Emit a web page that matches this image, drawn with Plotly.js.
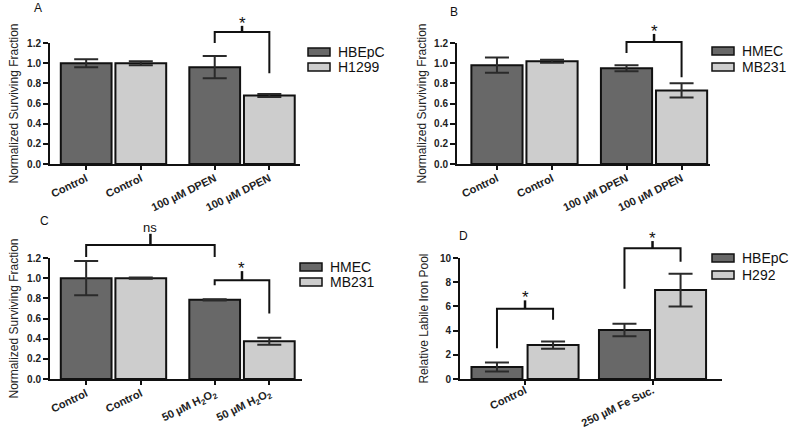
<!DOCTYPE html>
<html><head><meta charset="utf-8">
<script src="https://cdn.plot.ly/plotly-3.0.1.min.js"></script>
<style>html,body{margin:0;padding:0;background:#fff}#chart{width:800px;height:431px}</style>
</head><body><div id="chart"></div>
<script>
// ---------------- DATA ----------------
// Panel A
const groupsA = ['Control', '100 µM DPEN'];
const seriesA = ['HBEpC', 'H1299'];
const hbepcA = [1.00, 0.96];
const hbepcA_err = [0.04, 0.11];
const h1299A = [1.00, 0.68];
const h1299A_err = [0.02, 0.015];
const ticksA = ['Control', 'Control', '100 µM DPEN', '100 µM DPEN'];

// Panel B
const groupsB = ['Control', '100 µM DPEN'];
const seriesB = ['HMEC', 'MB231'];
const hmecB = [0.98, 0.95];
const hmecB_err = [0.075, 0.03];
const mb231B = [1.02, 0.73];
const mb231B_err = [0.015, 0.07];
const ticksB = ['Control', 'Control', '100 µM DPEN', '100 µM DPEN'];

// Panel C
const groupsC = ['Control', '50 µM H2O2'];
const seriesC = ['HMEC', 'MB231'];
const hmecC = [1.00, 0.785];
const hmecC_err = [0.17, 0.006];
const mb231C = [1.00, 0.375];
const mb231C_err = [0.006, 0.035];
const ticksC = ['Control', 'Control', '50 µM H<sub>2</sub>O<sub>2</sub>', '50 µM H<sub>2</sub>O<sub>2</sub>'];

// Panel D
const groupsD = ['Control', '250 µM Fe Suc.'];
const seriesD = ['HBEpC', 'H292'];
const hbepcD = [1.0, 4.05];
const hbepcD_err = [0.37, 0.52];
const h292D = [2.8, 7.35];
const h292D_err = [0.3, 1.35];
const ticksD = ['Control', '250 µM Fe Suc.'];

// significance brackets: bars are [group, series]; heights in data units
const sigA = [{l: [1, 0], r: [1, 1], top: 1.31, lEnd: 1.20, rEnd: 0.90, stem: 1.37, text: '*'}];
const sigB = [{l: [1, 0], r: [1, 1], top: 1.21, lEnd: 1.10, rEnd: 0.86, stem: 1.29, text: '*'}];
const sigC = [
  {l: [0, 0], r: [1, 0], top: 1.33, lEnd: 1.21, rEnd: 1.21, stem: 1.44, text: 'ns'},
  {l: [1, 0], r: [1, 1], top: 0.98, lEnd: 0.93, rEnd: 0.65, stem: 1.07, text: '*'}
];
const sigD = [
  {l: [0, 0], r: [0, 1], top: 5.8, lEnd: 2.55, rEnd: 4.9, stem: 6.5, text: '*'},
  {l: [1, 0], r: [1, 1], top: 10.8, lEnd: 7.45, rEnd: 9.7, stem: 11.4, text: '*'}
];

// ---------------- STYLE / LAYOUT ----------------
const W = 800, H = 431;
const COLORS = ['#686868', '#cdcdcd'];
const FONT = 'Liberation Sans, Arial, sans-serif';

const panels = [
  {id: 1, letter: 'A', groups: groupsA, series: seriesA, vals: [hbepcA, h1299A], errs: [hbepcA_err, h1299A_err],
   ticks: ticksA, tickPerBar: true, sig: sigA, ymax: 1.2, dtick: 0.2, fmt: '.1f', ytitle: 'Normalized Surviving Fraction',
   px: [50, 300], py: [43, 164], xr: [-0.494, 1.451], offs: [-0.41, 0.015], bw: 0.395, standoff: 6, xfs: 11, tls: -2,
   letterPos: [38, 8], legPos: [308, 52], legStep: 15},
  {id: 2, letter: 'B', groups: groupsB, series: seriesB, vals: [hmecB, mb231B], errs: [hmecB_err, mb231B_err],
   ticks: ticksB, tickPerBar: true, sig: sigB, ymax: 1.2, dtick: 0.2, fmt: '.1f', ytitle: 'Normalized Surviving Fraction',
   px: [457, 710], py: [43, 164], xr: [-0.521, 1.432], offs: [-0.41, 0.015], bw: 0.395, standoff: 5, xfs: 11, tls: -2,
   letterPos: [454, 12], legPos: [712, 51], legStep: 16},
  {id: 3, letter: 'C', groups: groupsC, series: seriesC, vals: [hmecC, mb231C], errs: [hmecC_err, mb231C_err],
   ticks: ticksC, tickPerBar: true, sig: sigC, ymax: 1.2, dtick: 0.2, fmt: '.1f', ytitle: 'Normalized Surviving Fraction',
   px: [50, 302], py: [258, 379], xr: [-0.494, 1.467], offs: [-0.41, 0.015], bw: 0.395, standoff: 6, xfs: 11, tls: -2,
   letterPos: [44, 221], legPos: [300, 267], legStep: 15},
  {id: 4, letter: 'D', groups: groupsD, series: seriesD, vals: [hbepcD, h292D], errs: [hbepcD_err, h292D_err],
   ticks: ticksD, tickPerBar: false, sig: sigD, ymax: 10, dtick: 2, fmt: 'd', ytitle: 'Relative Labile Iron Pool',
   px: [460, 722], py: [258, 379], xr: [-0.51, 1.545], offs: [-0.42, 0.02], bw: 0.4, standoff: 9, xfs: 11, tls: -5,
   letterPos: [464, 236], legPos: [712, 258], legStep: 17}
];

const traces = [];
const layout = {
  width: W, height: H, margin: {l: 0, r: 0, t: 0, b: 0},
  paper_bgcolor: '#fff', plot_bgcolor: '#fff',
  barmode: 'overlay', showlegend: false,
  font: {family: FONT, color: '#000'},
  shapes: [], annotations: []
};

panels.forEach(p => {
  const sfx = p.id === 1 ? '' : String(p.id);
  const xa = 'x' + sfx, ya = 'y' + sfx;
  const xd = [p.px[0] / W, p.px[1] / W];
  const yd = [1 - p.py[1] / H, 1 - p.py[0] / H];
  const toPaperY = v => yd[0] + v / p.ymax * (yd[1] - yd[0]);
  const barCenter = (g, s) => g + p.offs[s] + p.bw / 2;

  p.series.forEach((name, s) => {
    traces.push({
      type: 'bar', name: name, xaxis: xa, yaxis: ya,
      x: p.groups.map((_, g) => g), y: p.vals[s],
      hovertext: p.groups,
      width: p.bw, offset: p.offs[s],
      marker: {color: COLORS[s], line: {color: '#111', width: 2}},
      error_y: {type: 'data', array: p.errs[s], visible: true, color: '#2a2a2a', thickness: 2, width: 12}
    });
  });

  let tickvals;
  if (p.tickPerBar) {
    tickvals = [];
    p.groups.forEach((_, g) => p.series.forEach((__, s) => tickvals.push(barCenter(g, s))));
  } else {
    tickvals = p.groups.map((_, g) => (g + p.offs[0] + g + p.offs[1] + p.bw) / 2);
  }

  layout['xaxis' + sfx] = {
    domain: xd, anchor: ya, range: p.xr, fixedrange: true,
    showline: true, linecolor: '#111', linewidth: 2, showgrid: false, zeroline: false,
    ticks: 'outside', ticklen: 4, tickwidth: 2, tickcolor: '#111',
    tickmode: 'array', tickvals: tickvals, ticktext: p.ticks, tickangle: -26,
    ticklabelstandoff: p.tls,
    tickfont: {family: FONT, size: p.xfs, weight: 'bold', color: '#222'}
  };
  layout['yaxis' + sfx] = {
    domain: yd, anchor: xa, range: [0, p.ymax], fixedrange: true,
    showline: true, linecolor: '#111', linewidth: 2, showgrid: false, zeroline: false,
    ticks: 'outside', ticklen: 5, tickwidth: 2, tickcolor: '#111',
    dtick: p.dtick, tick0: 0, tickformat: p.fmt,
    tickfont: {family: FONT, size: 10, weight: 'bold', color: '#222'},
    title: {text: p.ytitle, font: {family: FONT, size: 12, color: '#222'}, standoff: p.standoff}
  };

  // significance brackets
  p.sig.forEach(b => {
    const xl = barCenter(b.l[0], b.l[1]);
    const xr = barCenter(b.r[0], b.r[1]);
    const xm = (xl + xr) / 2;
    const yt = toPaperY(b.top);
    layout.shapes.push({
      type: 'path', xref: xa, yref: 'paper',
      path: `M${xl},${toPaperY(b.lEnd)} L${xl},${yt} L${xr},${yt} L${xr},${toPaperY(b.rEnd)}`,
      line: {color: '#111', width: 2}
    });
    layout.shapes.push({
      type: 'line', xref: xa, yref: 'paper', x0: xm, x1: xm, y0: yt, y1: toPaperY(b.stem),
      line: {color: '#111', width: 2.5}
    });
    const isStar = b.text === '*';
    layout.annotations.push({
      xref: xa, yref: 'paper', x: xm, y: toPaperY(b.stem), yanchor: 'bottom', xanchor: 'center',
      yshift: isStar ? -9 : -3, showarrow: false, text: b.text,
      font: {family: FONT, size: isStar ? 17 : 13, color: '#111'}
    });
  });

  // panel letter
  layout.annotations.push({
    xref: 'paper', yref: 'paper', x: p.letterPos[0] / W, y: 1 - p.letterPos[1] / H,
    xanchor: 'center', yanchor: 'middle', showarrow: false, text: p.letter,
    font: {family: FONT, size: 12, color: '#111'}
  });

  // legend (swatches + names)
  p.series.forEach((name, s) => {
    const cy = p.legPos[1] + s * p.legStep;
    const x0 = p.legPos[0];
    layout.shapes.push({
      type: 'rect', xref: 'paper', yref: 'paper',
      x0: x0 / W, x1: (x0 + 22) / W, y0: 1 - (cy + 4) / H, y1: 1 - (cy - 4) / H,
      fillcolor: COLORS[s], line: {color: '#111', width: 1.5}
    });
    layout.annotations.push({
      xref: 'paper', yref: 'paper', x: (x0 + 29) / W, y: 1 - cy / H,
      xanchor: 'left', yanchor: 'middle', showarrow: false, text: name,
      height: p.legStep - 1, borderpad: 0,
      font: {family: FONT, size: 14, color: '#111'}
    });
  });
});

Plotly.newPlot('chart', traces, layout, {staticPlot: true, displayModeBar: false});
</script>
</body></html>
